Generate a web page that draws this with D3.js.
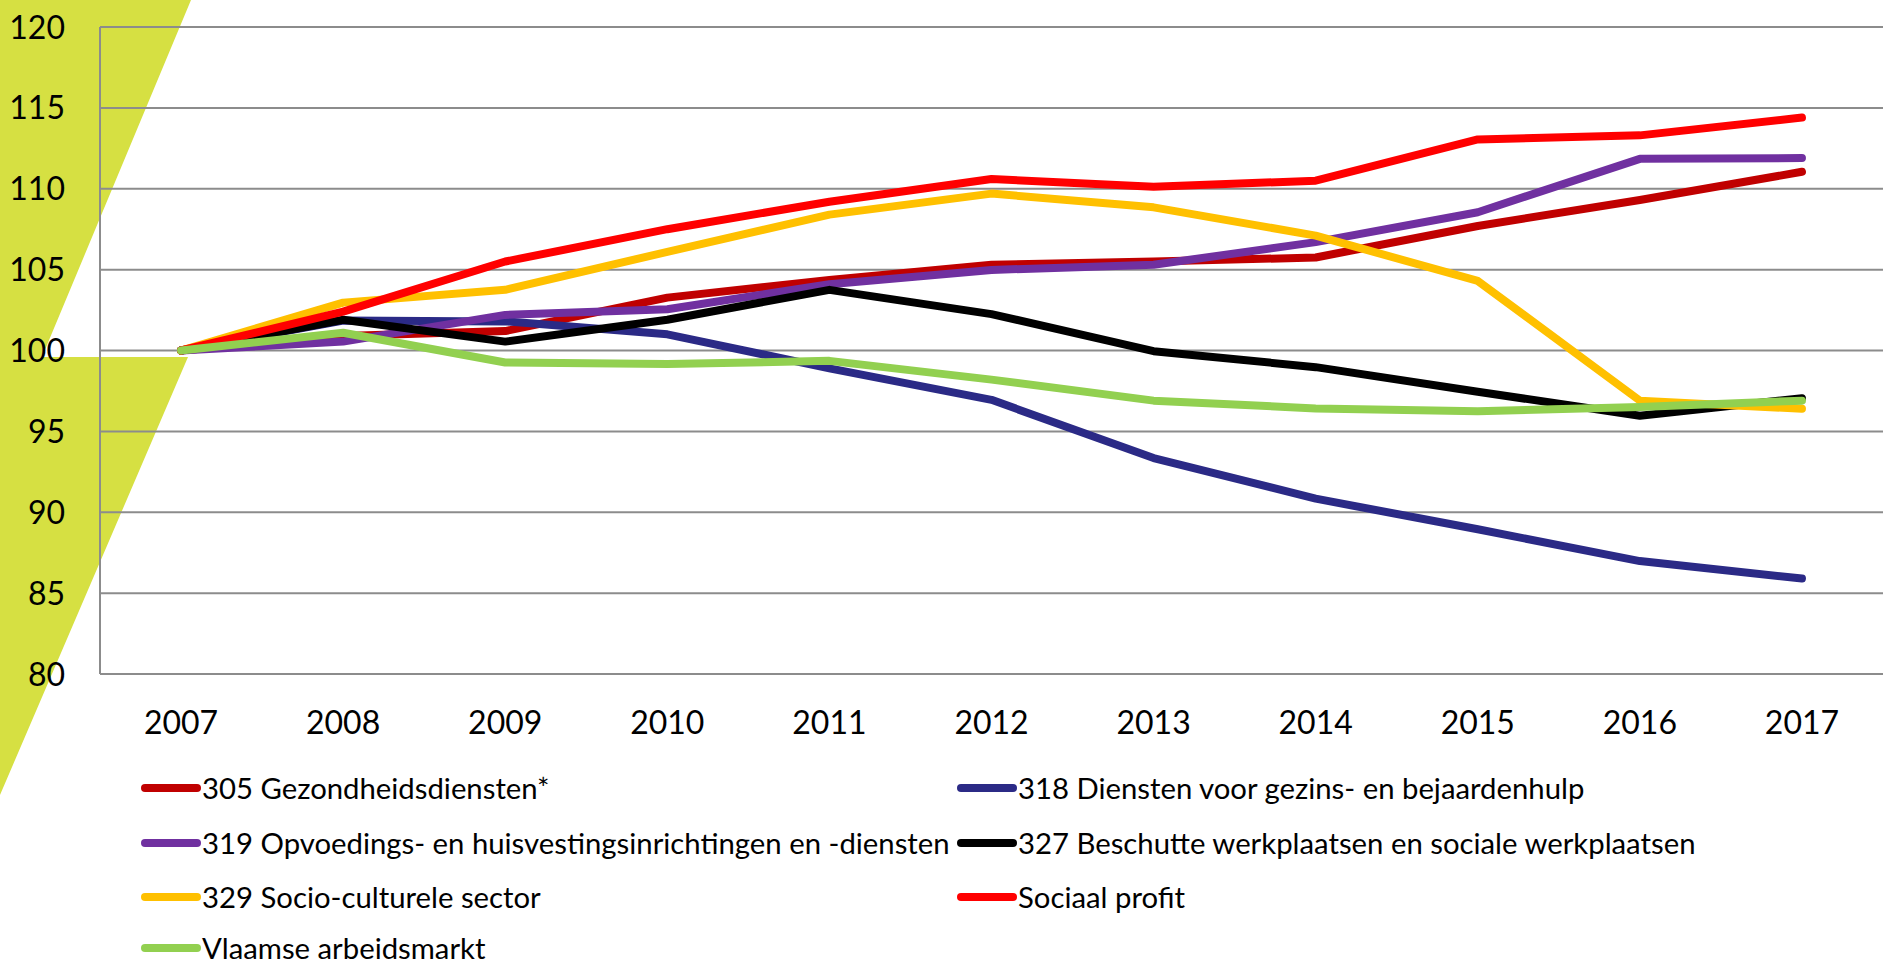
<!DOCTYPE html>
<html>
<head>
<meta charset="utf-8">
<script src="https://cdn.jsdelivr.net/npm/d3@7"></script>
<style>
	html, body { margin: 0; padding: 0; background: #fff; }
	svg { display: block; font-family: Lato, "Open Sans", sans-serif; }
</style>
</head>
<body>
<svg id="chart" width="1884" height="966"></svg>
<script>
// years on the x axis
var years = ["2007", "2008", "2009", "2010", "2011", "2012", "2013", "2014", "2015", "2016", "2017"];
var yTicks = [80, 85, 90, 95, 100, 105, 110, 115, 120];

// index values (2007 = 100)
var gezondheid = [100, 100.9, 101.2, 103.27, 104.36, 105.3, 105.5, 105.75, 107.7, 109.3, 111.05];
var gezinsHulp = [100, 101.85, 101.8, 101.0, 98.9, 96.95, 93.35, 90.84, 88.95, 86.98, 85.9];
var opvoeding = [100, 100.55, 102.2, 102.55, 104.1, 104.98, 105.3, 106.7, 108.55, 111.85, 111.9];
var beschutte = [100, 101.9, 100.55, 101.9, 103.75, 102.25, 99.96, 98.97, 97.45, 95.97, 97.05];
var socioCult = [100, 102.96, 103.75, 106.1, 108.4, 109.7, 108.85, 107.1, 104.3, 96.9, 96.4];
var sociaalProfit = [100, 102.4, 105.5, 107.5, 109.2, 110.6, 110.12, 110.5, 113.05, 113.3, 114.4];
var vlaamse = [100, 101.1, 99.26, 99.16, 99.36, 98.2, 96.9, 96.42, 96.25, 96.5, 96.9];

var seriesNames = [
	"305 Gezondheidsdiensten*",
	"318 Diensten voor gezins- en bejaardenhulp",
	"319 Opvoedings- en huisvestingsinrichtingen en -diensten",
	"327 Beschutte werkplaatsen en sociale werkplaatsen",
	"329 Socio-culturele sector",
	"Sociaal profit",
	"Vlaamse arbeidsmarkt"
];
var seriesColors = ["#c00000", "#2b2a86", "#7030a0", "#000000", "#ffc000", "#ff0000", "#92d050"];
var seriesValues = [gezondheid, gezinsHulp, opvoeding, beschutte, socioCult, sociaalProfit, vlaamse];

(function () {
	var series = seriesNames.map(function (name, i) {
		return { name: name, color: seriesColors[i], values: seriesValues[i] };
	});

	var svg = d3.select("#chart");
	var plotLeft = 100, plotRight = 1883, plotTop = 27, plotBottom = 674;

	var x = d3.scalePoint().domain(years).range([plotLeft, plotRight]).padding(0.5);
	var y = d3.scaleLinear().domain([80, 120]).range([plotBottom, plotTop]);

	// green decoration behind the chart
	svg.append("path")
		.attr("d", "M0,0 L191,0 L42,357 L188,357 L0,795 Z")
		.attr("fill", "#d6e042");

	// gridlines
	svg.append("g")
		.selectAll("line")
		.data(yTicks)
		.join("line")
		.attr("x1", plotLeft)
		.attr("x2", plotRight)
		.attr("y1", function (d) { return y(d); })
		.attr("y2", function (d) { return y(d); })
		.attr("stroke", "#8c8c8c")
		.attr("stroke-width", 2);

	// y axis line
	svg.append("line")
		.attr("x1", plotLeft).attr("x2", plotLeft)
		.attr("y1", y(120)).attr("y2", y(80))
		.attr("stroke", "#8c8c8c")
		.attr("stroke-width", 2);

	// y tick labels
	svg.append("g")
		.selectAll("text")
		.data(yTicks)
		.join("text")
		.attr("x", 65)
		.attr("y", function (d) { return y(d); })
		.attr("dy", "0.36em")
		.attr("text-anchor", "end")
		.attr("font-size", 32)
		.attr("fill", "#000")
		.text(function (d) { return d; });

	// x tick labels
	svg.append("g")
		.selectAll("text")
		.data(years)
		.join("text")
		.attr("x", function (d) { return x(d); })
		.attr("y", 734)
		.attr("text-anchor", "middle")
		.attr("font-size", 32)
		.attr("fill", "#000")
		.text(function (d) { return d; });

	// lines
	var line = d3.line()
		.x(function (d, i) { return x(years[i]); })
		.y(function (d) { return y(d); });

	svg.append("g")
		.selectAll("path")
		.data(series)
		.join("path")
		.attr("d", function (s) { return line(s.values); })
		.attr("fill", "none")
		.attr("stroke", function (s) { return s.color; })
		.attr("stroke-width", 8)
		.attr("stroke-linejoin", "round")
		.attr("stroke-linecap", "round");

	// legend, two columns
	var legendCols = [141, 957];
	var legendRows = [788, 843, 897, 948];

	var legend = svg.append("g")
		.selectAll("g")
		.data(series)
		.join("g")
		.attr("transform", function (s, i) {
			return "translate(" + legendCols[i % 2] + "," + legendRows[Math.floor(i / 2)] + ")";
		});

	legend.append("line")
		.attr("x1", 4).attr("x2", 56)
		.attr("y1", 0).attr("y2", 0)
		.attr("stroke", function (s) { return s.color; })
		.attr("stroke-width", 8)
		.attr("stroke-linecap", "round");

	legend.append("text")
		.attr("x", 61)
		.attr("y", 0)
		.attr("dy", "0.36em")
		.attr("font-size", 29.3)
		.attr("fill", "#000")
		.text(function (s) { return s.name; });
})();
</script>
</body>
</html>
